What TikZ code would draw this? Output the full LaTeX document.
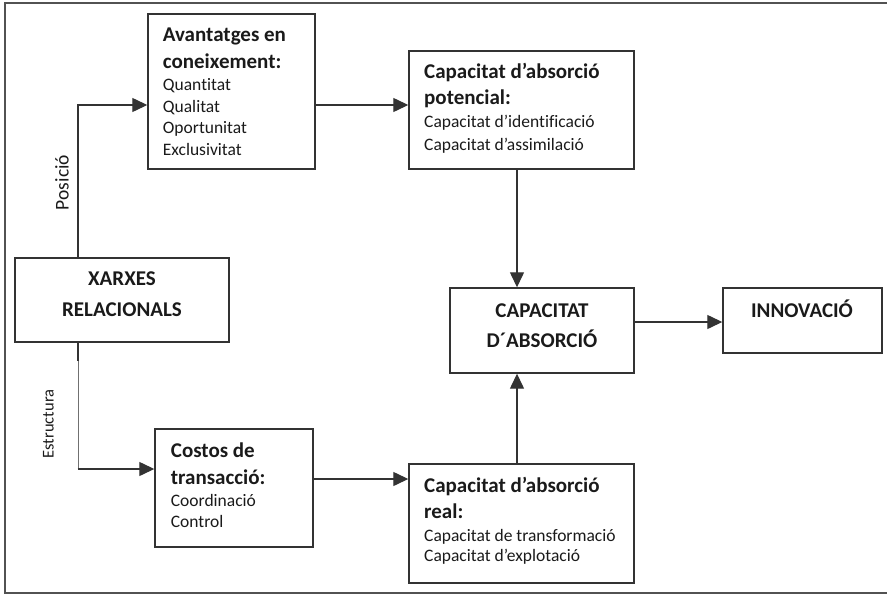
\documentclass[tikz,border=0pt]{standalone}
\usepackage{fontspec}
\setmainfont{Carlito}[Ligatures=NoCommon]
\usetikzlibrary{arrows.meta}
\definecolor{lc}{HTML}{333333}
\definecolor{tc}{HTML}{1A1A1A}
\begin{document}
\begin{tikzpicture}[x=1pt,y=-1pt,
  box/.style={draw=lc, line width=1.4pt, rectangle, inner sep=0, fill=none},
  ttl/.style={font=\fontsize{21}{25}\selectfont\bfseries, text=tc, inner sep=0, anchor=base west},
  ctl/.style={font=\fontsize{21}{25}\selectfont\bfseries, text=tc, inner sep=0, anchor=base},
  itm/.style={font=\fontsize{17.5}{21}\selectfont, text=tc, inner sep=0, anchor=base west},
  arr/.style={draw=lc, line width=1.3pt, -{Triangle[length=15pt,width=14pt]}},
  ln/.style={draw=lc, line width=1.3pt},
  thinln/.style={draw=lc!70, line width=0.9pt},
  frame/.style={draw=lc!85, line width=1.3pt}]
\useasboundingbox (0,0) rectangle (887,594);
\draw[frame] (890,3) -- (5,3) -- (5,593) -- (890,593);

% boxes
\node[box, minimum width=167pt, minimum height=155pt] (av) at (231.5,91.5) {};
\node[box, minimum width=225pt, minimum height=118pt] (pot) at (521.5,110) {};
\node[box, minimum width=214pt, minimum height=84pt] (xr) at (122,300) {};
\node[box, minimum width=184pt, minimum height=85pt] (cap) at (542,330.5) {};
\node[box, minimum width=159pt, minimum height=65pt] (inn) at (802.5,320.5) {};
\node[box, minimum width=158pt, minimum height=118pt] (cost) at (234,488) {};
\node[box, minimum width=225pt, minimum height=119pt] (real) at (521.5,523.5) {};

% texts
\node[ttl] (av1) at (162.7,41.7) {Avantatges en};
\node[ttl] (av2) at (162.7,68.3) {coneixement:};
\node[itm] (av3) at (162.7,90.7) {Quantitat};
\node[itm] (av4) at (162.7,112.7) {Qualitat};
\node[itm] (av5) at (162.7,133.8) {Oportunitat};
\node[itm] (av6) at (162.7,155) {Exclusivitat};

\node[ttl] (pot1) at (424,79) {Capacitat d’absorció};
\node[ttl] (pot2) at (424,104.3) {potencial:};
\node[itm] (pot3) at (424,127.7) {Capacitat d’identificació};
\node[itm] (pot4) at (424,150) {Capacitat d’assimilació};

\node[ctl] (xr1) at (122,285) {XARXES};
\node[ctl] (xr2) at (122,316.7) {RELACIONALS};

\node[ctl] (cap1) at (542,317.7) {CAPACITAT};
\node[ctl] (cap2) at (542,347.3) {D´ABSORCIÓ};

\node[ctl] (inn1) at (802,317.7) {INNOVACIÓ};

\node[ttl] (cost1) at (170.7,457.3) {Costos de};
\node[ttl] (cost2) at (170.7,484.3) {transacció:};
\node[itm] (cost3) at (170.7,506) {Coordinació};
\node[itm] (cost4) at (170.7,527.7) {Control};

\node[ttl] (real1) at (424,492.3) {Capacitat d’absorció};
\node[ttl] (real2) at (424,518.3) {real:};
\node[itm] (real3) at (424,541) {Capacitat de transformació};
\node[itm] (real4) at (424,561.7) {Capacitat d’explotació};

% helper coordinates
\coordinate (px) at (78,0);
\coordinate (vx) at (517,0);
\coordinate (hy) at (0,105);
\coordinate (sy) at (0,469);
\coordinate (ry) at (0,479);
\coordinate (iy) at (0,322);
\coordinate (corner) at (78,469);

% connectors
\draw[arr] (xr.north -| px) |- (av.west |- hy);
\draw[arr] (av.east |- hy) -- (pot.west |- hy);
\draw[arr] (pot.south -| vx) -- (cap.north -| vx);
\draw[arr] (real.north -| vx) -- (cap.south -| vx);
\draw[arr] (cap.east |- iy) -- (inn.west |- iy);
\draw[arr] (cost.east |- ry) -- (real.west |- ry);
\draw[thinln] (xr.south -| px) -- (corner);
\draw[ln] (xr.south -| px) -- ++(0,18);
\draw[arr] ([xshift=-0.45pt]corner) -- (cost.west |- sy);

% labels
\node[font=\fontsize{19.5}{22}\selectfont, text=tc, rotate=90, inner sep=0] (lpos) at (62,182.5) {Posició};
\node[font=\fontsize{16.5}{20}\selectfont, text=tc, rotate=90, inner sep=0] (lest) at (48.5,424) {Estructura};
\end{tikzpicture}
\end{document}
